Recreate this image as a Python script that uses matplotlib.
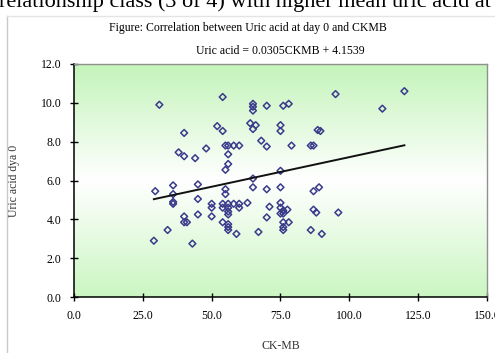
import numpy as np
import matplotlib.pyplot as plt
from matplotlib.colors import LinearSegmentedColormap

# CK-MB (x) vs uric acid at day 0 (y)
ckmb = [29, 29.5, 31, 34, 36, 36, 36, 36, 38, 40, 40, 40, 40, 41, 43, 44,
        45, 45, 45, 48, 50, 50, 50, 52, 54, 54, 54, 54, 54, 55, 55, 55, 55,
        56, 56, 56, 56, 56, 56, 56, 56, 56, 56, 58, 58, 59, 60, 60, 60, 63,
        64, 65, 65, 65, 65, 66, 65, 65, 67, 68, 70, 70, 70, 70, 71,
        75, 75, 75, 75, 75, 75, 76, 77.5, 75, 76, 76, 78, 76, 76, 76, 78, 79,
        86, 87, 86, 87, 87, 88.5, 89.5, 89, 88, 90, 95, 96, 112, 120]
uric = [2.9, 5.45, 9.9, 3.45, 5.75, 5.3, 4.9, 4.8, 7.45, 7.25, 8.45, 4.15, 3.85, 3.85, 2.75, 7.15,
        5.8, 5.05, 4.25, 7.65, 4.8, 4.6, 4.15, 8.8, 10.3, 8.55, 4.8, 4.6, 3.85, 7.8, 6.55, 5.55, 5.3,
        7.8, 7.35, 6.85, 4.8, 4.6, 4.4, 4.25, 3.75, 3.6, 3.45, 7.8, 4.8, 3.25, 7.8, 4.8, 4.6, 4.85,
        8.95, 9.95, 9.8, 9.6, 8.65, 8.85, 6.1, 5.65, 3.35, 8.05, 7.75, 9.85, 5.55, 4.1, 4.65,
        8.85, 8.55, 6.5, 5.65, 4.85, 4.6, 4.45, 4.5, 4.3, 4.3, 3.85, 3.85, 3.6, 3.45, 9.85, 9.95, 7.8,
        7.8, 7.8, 3.45, 5.45, 4.5, 8.6, 8.55, 5.65, 4.35, 3.25, 10.45, 4.35, 9.7, 10.6]

slope = 0.0305
intercept = 4.1539
x_ticks = [0, 25, 50, 75, 100, 125, 150]
y_ticks = [0, 2, 4, 6, 8, 10, 12]

serif = 'Liberation Serif'

fig = plt.figure(figsize=(4.95, 3.53), dpi=100)

# bit of the document text cut off at the top of the screenshot
fig.text(-0.002, 0.981, 'relationship class (3 of 4) with higher mean uric acid at',
         fontsize=16, family=serif, ha='left', va='baseline', color='black')

# chart frame
fig.add_artist(plt.Line2D([0.0141, 0.0141], [0, 0.955], color='#c8c8c8', lw=1))
fig.add_artist(plt.Line2D([0.0141, 1], [0.955, 0.955], color='#e4e4e4', lw=1))

ax = fig.add_axes([0.1495, 0.1586, 0.8343, 0.6601])

cmap = LinearSegmentedColormap.from_list('bg', ['#cbf6c2', '#ffffff', '#c3f4b9'])
grad = np.linspace(0, 1, 256).reshape(-1, 1)
ax.imshow(grad, cmap=cmap, aspect='auto', extent=[0, 150, 0, 12],
          origin='lower', zorder=0)

ax.scatter(ckmb, uric, marker='D', s=12, facecolors='none',
           edgecolors='#3a3a8c', linewidths=1.1, zorder=3)

xl = np.array([29, 120])
ax.plot(xl, slope * xl + intercept, color='#111111', lw=1.4, zorder=4)

ax.set_xlim(0, 150)
ax.set_ylim(0, 12)
ax.set_xticks(x_ticks)
ax.set_yticks(y_ticks)
ax.set_xticklabels(['%.1f' % v for v in x_ticks])
ax.set_yticklabels(['%.1f' % v for v in y_ticks])
ax.tick_params(direction='inout', length=6, width=1, labelsize=8.5, pad=6)
for lab in ax.get_xticklabels() + ax.get_yticklabels():
    lab.set_family(serif)

for s in ['left', 'bottom']:
    ax.spines[s].set_color('black')
    ax.spines[s].set_linewidth(1.1)
for s in ['top', 'right']:
    ax.spines[s].set_color('#909090')
    ax.spines[s].set_linewidth(1)

ax.set_xlabel('CK-MB', family=serif, fontsize=8.5, labelpad=13, color='#333333')
ax.set_ylabel('Uric acid dya 0', family=serif, fontsize=8.5, labelpad=15, color='#333333')

fig.text(0.5, 0.922, 'Figure: Correlation between Uric acid at day 0 and CKMB',
         family=serif, fontsize=8.5, ha='center', va='center')
ax.set_title('Uric acid = 0.0305CKMB + 4.1539', family=serif, fontsize=8.5, pad=7)

fig.savefig('out.png', dpi=100)
